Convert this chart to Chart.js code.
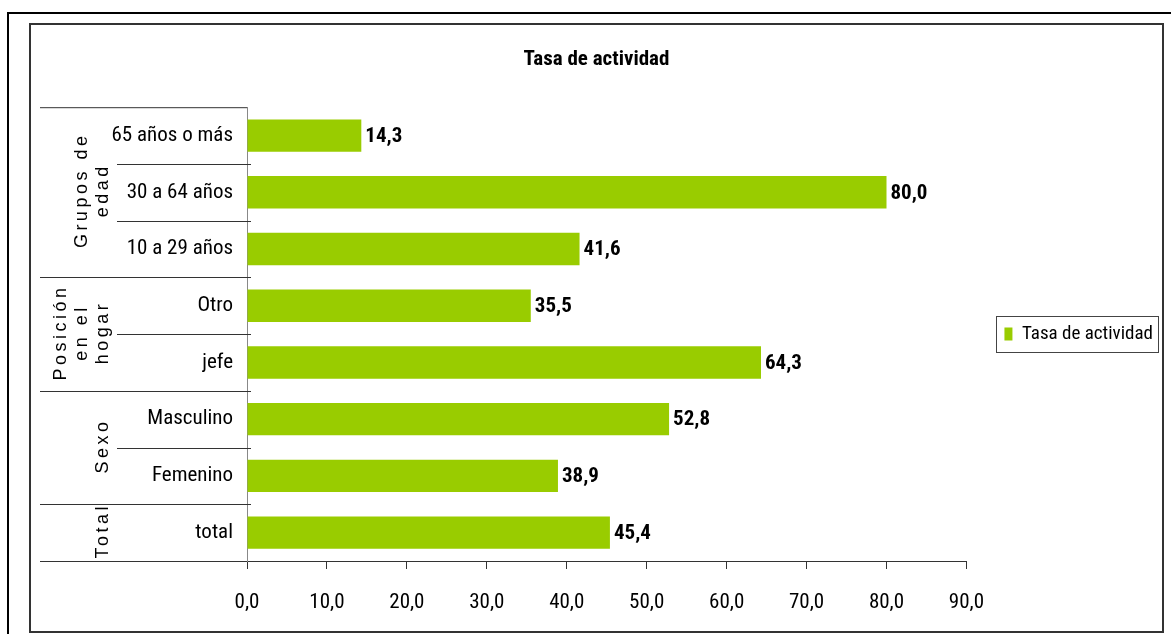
<!DOCTYPE html>
<html>
<head>
<meta charset="utf-8">
<script src="https://cdn.jsdelivr.net/npm/chart.js@4.4.1/dist/chart.umd.min.js"></script>
<style>
  html, body { margin: 0; padding: 0; background: #fff; }
  #wrap { width: 1171px; height: 634px; }
</style>
</head>
<body>
<div id="wrap"><canvas id="chart" width="1171" height="634"></canvas></div>
<script>
var categories = ["65 años o más", "30 a 64 años", "10 a 29 años", "Otro", "jefe", "Masculino", "Femenino", "total"];
var activityRate = [14.3, 80.0, 41.6, 35.5, 64.3, 52.8, 38.9, 45.4];
var groupLines = [["Grupos de", "edad"], ["Posición", "en el", "hogar"], ["Sexo"], ["Total"]];
var groupSizes = [3, 2, 2, 1];
var xMin = 0, xMax = 90, xStep = 10;

var NARROW = '"Roboto Condensed", "Liberation Sans Narrow", sans-serif';
var WIDE = '"Liberation Sans", Arial, sans-serif';
var GREEN = "#99cc00";

var fmt = function(v) {
  return Number(v).toFixed(1).replace(".", ",");
}

// frames behind everything
var framePlugin = {
  id: "frames",
  beforeDraw: function(chart) {
    var ctx = chart.ctx;
    ctx.save();
    ctx.fillStyle = "#fff";
    ctx.fillRect(0, 0, chart.width, chart.height);
    ctx.strokeStyle = "#000";
    ctx.lineWidth = 2;
    ctx.strokeRect(8, 13, 1200, 700);
    ctx.strokeStyle = "#333";
    ctx.strokeRect(30, 24, 1133, 608);
    ctx.restore();
  }
};

// value labels, category group labels and separators, legend border
var extrasPlugin = {
  id: "extras",
  afterDraw: function(chart) {
    var ctx = chart.ctx;
    var area = chart.chartArea;
    var y = chart.scales.y;
    ctx.save();

    // values at the bar ends
    var meta = chart.getDatasetMeta(0);
    ctx.font = "bold 21px " + NARROW;
    ctx.fillStyle = "#000";
    ctx.textAlign = "left";
    ctx.textBaseline = "middle";
    meta.data.forEach(function(bar, i) {
      ctx.fillText(fmt(activityRate[i]), bar.x + 4, bar.y + 1);
    });

    // row edges
    var edge = function(k) {
      if (k <= 0) return area.top;
      if (k >= categories.length) return area.bottom;
      return Math.round((y.getPixelForValue(k - 1) + y.getPixelForValue(k)) / 2) + 0.5;
    };
    var groupStarts = [];
    var s = 0;
    groupSizes.forEach(function(n) { groupStarts.push(s); s += n; });

    ctx.strokeStyle = "#333";
    ctx.lineWidth = 1;
    ctx.beginPath();
    ctx.moveTo(40, area.top + 0.5); ctx.lineTo(area.left, area.top + 0.5);
    for (var k = 1; k < categories.length; k++) {
      var isGroup = groupStarts.indexOf(k) >= 0;
      ctx.moveTo(isGroup ? 40 : 117, edge(k));
      ctx.lineTo(area.left + 4, edge(k));
    }
    ctx.moveTo(40, area.bottom + 0.5); ctx.lineTo(area.left, area.bottom + 0.5);
    ctx.stroke();

    // rotated group names
    ctx.font = "18px " + WIDE;
    ctx.letterSpacing = "3.5px";
    ctx.textAlign = "center";
    ctx.textBaseline = "alphabetic";
    groupLines.forEach(function(lines, g) {
      var cy = (edge(groupStarts[g]) + edge(groupStarts[g] + groupSizes[g])) / 2;
      lines.forEach(function(line, j) {
        var bx = 108 - (lines.length - 1 - j) * 21;
        ctx.save();
        ctx.translate(bx, cy);
        ctx.rotate(-Math.PI / 2);
        ctx.fillText(line, 2, 0);
        ctx.restore();
      });
    });
    ctx.letterSpacing = "0px";

    // legend border
    var hb = chart.legend.legendHitBoxes[0];
    if (hb) {
      ctx.strokeStyle = "#444";
      ctx.lineWidth = 1;
      var bx0 = Math.round(hb.left - 8) + 0.5;
      var bx1 = Math.round(hb.left + hb.width + 5) + 0.5;
      ctx.strokeRect(bx0, Math.round(hb.top - 9) + 0.5, bx1 - bx0, Math.round(hb.height + 17));
    }
    ctx.restore();
  }
};

var canvas = document.getElementById("chart");
var lineChart = new Chart(canvas, {
  type: "bar",
  data: {
    labels: categories,
    datasets: [
      {
        label: "Tasa de actividad",
        data: activityRate,
        backgroundColor: GREEN,
        borderWidth: 0,
        categoryPercentage: 1.0,
        barPercentage: 0.57
      }
    ]
  },
  options: {
    responsive: false,
    animation: false,
    indexAxis: "y",
    layout: { padding: { left: 30, right: 8, top: 24, bottom: 0 } },
    plugins: {
      title: {
        display: true,
        text: "Tasa de actividad",
        color: "#000",
        font: { family: NARROW, size: 21, weight: "bold" },
        padding: { top: 23, bottom: 35 }
      },
      legend: {
        position: "right",
        fullSize: false,
        maxWidth: 205,
        labels: {
          color: "#000",
          font: { family: NARROW, size: 19 },
          boxWidth: 8,
          boxHeight: 13,
          padding: 38
        }
      },
      tooltip: { enabled: false }
    },
    scales: {
      x: {
        min: xMin,
        max: xMax,
        ticks: {
          stepSize: xStep,
          color: "#000",
          font: { family: NARROW, size: 21 },
          padding: 21,
          callback: function(v) { return fmt(v); }
        },
        grid: { drawOnChartArea: false, drawTicks: true, tickLength: 8, color: "#333" },
        border: { color: "#333", width: 1 },
        afterFit: function(scale) { scale.height = 73; }
      },
      y: {
        ticks: {
          color: "#000",
          font: { family: NARROW, size: 21 },
          padding: 6
        },
        grid: { display: false },
        border: { color: "#888", width: 1 },
        afterFit: function(scale) { scale.width = 217; }
      }
    }
  },
  plugins: [framePlugin, extrasPlugin]
});
</script>
</body>
</html>
